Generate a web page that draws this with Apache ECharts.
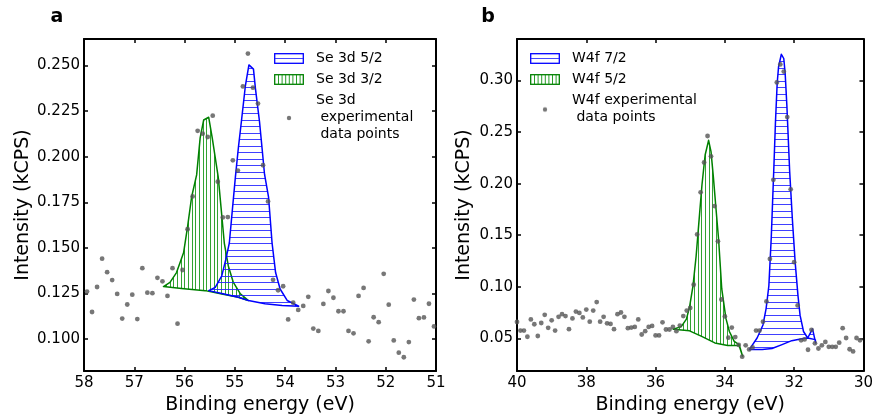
<!DOCTYPE html>
<html><head><meta charset="utf-8">
<script src="https://cdn.jsdelivr.net/npm/echarts@6/dist/echarts.min.js"></script>
<style>html,body{margin:0;padding:0;background:#fff}#c{width:876px;height:420px}</style>
</head><body><div id="c"></div>
<script>
// ---------- Panel a : Se 3d ----------
const seExpX = [57.94,57.84,57.74,57.64,57.54,57.44,57.34,57.24,57.14,57.04,
  56.94,56.84,56.74,56.64,56.54,56.44,56.34,56.24,56.14,56.04,
  55.94,55.84,55.74,55.64,55.54,55.44,55.34,55.24,55.14,55.04,
  54.94,54.84,54.74,54.64,54.54,54.44,54.34,54.24,54.14,54.04,
  53.94,53.84,53.74,53.64,53.54,53.44,53.34,53.24,53.14,53.04,
  52.94,52.84,52.74,52.64,52.54,52.44,52.34,52.24,52.14,52.04,
  51.94,51.84,51.74,51.64,51.54,51.44,51.34,51.24,51.14,51.04];
const seExpY = [0.1261,0.1149,0.1286,0.1441,0.1367,0.1324,0.1248,0.1113,0.1190,0.1244,
  0.1110,0.1389,0.1255,0.1252,0.1336,0.1317,0.1237,0.1389,0.1085,0.1379,
  0.1603,0.1782,0.2142,0.2126,0.2108,0.2225,0.1863,0.1667,0.1669,0.1980,
  0.1924,0.2385,0.2565,0.2378,0.2291,0.1953,0.1755,0.1325,0.1268,0.1290,
  0.1108,0.1200,0.1160,0.1182,0.1232,0.1058,0.1045,0.1193,0.1264,0.1227,
  0.1153,0.1153,0.1045,0.1032,0.1237,0.1281,0.0988,0.1120,0.1093,0.1358,
  0.1189,0.0993,0.0926,0.0901,0.0984,0.1217,0.1115,0.1119,0.1194,0.1070];
// Se 3d 3/2 (green) fit and background
const se32FitX = [56.42,56.29,56.16,56.02,55.94,55.86,55.76,55.69,55.62,55.52,55.45,55.39,55.33,55.27,55.21,55.13,55.03,54.89,54.73];
const se32FitY = [0.1288,0.1311,0.1365,0.1473,0.1617,0.1779,0.1900,0.2103,0.2201,0.2216,0.2103,0.1995,0.1887,0.1707,0.1527,0.1401,0.1311,0.1248,0.1212];
const se32BgX = [56.42,56.06,55.59,55.26,54.93,54.73];
const se32BgY = [0.1288,0.1278,0.1266,0.1248,0.1230,0.1212];
// Se 3d 5/2 (blue) fit and background
const se52FitX = [55.52,55.39,55.26,55.18,55.11,55.05,54.99,54.93,54.87,54.79,54.72,54.63,54.59,54.51,54.46,54.41,54.33,54.26,54.19,54.10,53.96,53.73];
const se52FitY = [0.1266,0.1284,0.1347,0.1437,0.1527,0.1707,0.1887,0.2049,0.2193,0.2390,0.2503,0.2480,0.2372,0.2193,0.2049,0.1904,0.1779,0.1527,0.1365,0.1275,0.1212,0.1181];
const se52BgX = [55.52,55.26,54.93,54.73,54.40,54.06,53.73];
const se52BgY = [0.1266,0.1250,0.1230,0.1212,0.1194,0.1185,0.1181];

// ---------- Panel b : W4f ----------
const wExpX = [40.0,39.9,39.8,39.7,39.6,39.5,39.4,39.3,39.2,39.1,
  39.0,38.9,38.8,38.7,38.6,38.5,38.4,38.3,38.2,38.1,
  38.0,37.9,37.8,37.7,37.6,37.5,37.4,37.3,37.2,37.1,
  37.0,36.9,36.8,36.7,36.6,36.5,36.4,36.3,36.2,36.1,
  36.0,35.9,35.8,35.7,35.6,35.5,35.4,35.3,35.2,35.1,
  35.0,34.9,34.8,34.7,34.6,34.5,34.4,34.3,34.2,34.1,
  34.0,33.9,33.8,33.7,33.6,33.5,33.4,33.3,33.2,33.1,
  33.0,32.9,32.8,32.7,32.6,32.5,32.4,32.3,32.2,32.1,
  32.0,31.9,31.8,31.7,31.6,31.5,31.4,31.3,31.2,31.1,
  31.0,30.9,30.8,30.7,30.6,30.5,30.4,30.3,30.2,30.1];
const wExpY = [0.0659,0.0576,0.0576,0.0516,0.0684,0.0637,0.0523,0.0649,0.0728,0.0602,
  0.0675,0.0576,0.0709,0.0735,0.0716,0.0589,0.0694,0.0760,0.0747,0.0703,
  0.0779,0.0662,0.0770,0.0852,0.0662,0.0709,0.0646,0.0640,0.0589,0.0735,
  0.0751,0.0709,0.0599,0.0605,0.0611,0.0684,0.0538,0.0570,0.0611,0.0621,
  0.0529,0.0529,0.0656,0.0586,0.0586,0.0611,0.0570,0.0624,0.0716,0.0770,
  0.0795,0.1020,0.1508,0.1916,0.2205,0.2462,0.2265,0.1783,0.1441,0.0877,
  0.0713,0.0507,0.0605,0.0513,0.0437,0.0323,0.0433,0.0393,0.0412,0.0576,
  0.0576,0.0662,0.0858,0.1270,0.2037,0.2981,0.3156,0.3086,0.2645,0.1945,
  0.1239,0.0820,0.0481,0.0490,0.0390,0.0583,0.0452,0.0402,0.0433,0.0466,
  0.0418,0.0418,0.0418,0.0459,0.0599,0.0504,0.0395,0.0374,0.0504,0.0481];
// W4f 5/2 (green)
const w52FitX = [35.49,35.26,35.11,35.02,34.92,34.83,34.73,34.66,34.57,34.47,34.40,34.33,34.26,34.18,34.09,33.97,33.87,33.73,33.59,33.49];
const w52FitY = [0.0589,0.0614,0.0687,0.0804,0.1010,0.1296,0.1707,0.1992,0.2278,0.2420,0.2310,0.2056,0.1771,0.1454,0.0979,0.0694,0.0567,0.0471,0.0440,0.0329];
const w52BgX = [35.49,35.02,34.67,34.29,33.92,33.59];
const w52BgY = [0.0589,0.0573,0.0519,0.0456,0.0431,0.0431];
// W4f 7/2 (blue)
const w72FitX = [33.29,33.07,32.90,32.81,32.73,32.66,32.59,32.54,32.49,32.45,32.37,32.30,32.26,32.21,32.13,32.05,31.97,31.89,31.83,31.73,31.61,31.47,31.38];
const w72FitY = [0.0393,0.0504,0.0630,0.0789,0.1010,0.1486,0.2120,0.2595,0.2975,0.3133,0.3254,0.3213,0.3070,0.2753,0.2120,0.1645,0.1232,0.0915,0.0725,0.0567,0.0504,0.0592,0.0456];
const w72BgX = [33.29,32.92,32.64,32.35,32.07,31.78,31.61,31.39];
const w72BgY = [0.0393,0.0393,0.0402,0.0440,0.0478,0.0497,0.0504,0.0488];

// tick labels
const seXTicks = [51,52,53,54,55,56,57,58];
const seYTicks = [0.100,0.125,0.150,0.175,0.200,0.225,0.250];
const wXTicks = [30,32,34,36,38,40];
const wYTicks = [0.05,0.10,0.15,0.20,0.25,0.30];

const BLUE = '#0000ff', GREEN = '#008000', DOT = '#555555';
const FONT = 'DejaVu Sans';

function hatchH(color) {
  const c = document.createElement('canvas'); c.width = 8; c.height = 13;
  const g = c.getContext('2d'); g.fillStyle = color;
  g.fillRect(0, 3, 8, 1); g.fillRect(0, 9, 8, 1);
  return {image: c, repeat: 'repeat'};
}
function hatchV(color) {
  const c = document.createElement('canvas'); c.width = 11; c.height = 8;
  const g = c.getContext('2d'); g.fillStyle = color;
  g.fillRect(1, 0, 1, 8); g.fillRect(5, 0, 1, 8); g.fillRect(8, 0, 1, 8);
  return {image: c, repeat: 'repeat'};
}
function iconCanvas(kind) {
  const c = document.createElement('canvas'); c.width = 37; c.height = 11;
  const g = c.getContext('2d');
  if (kind === 'blue') {
    g.strokeStyle = BLUE; g.lineWidth = 1.3;
    g.strokeRect(0.7, 0.7, 28.6, 9.6);
    g.strokeStyle = 'rgba(40,40,255,0.85)';
    g.lineWidth = 1; g.beginPath(); g.moveTo(1, 5.5); g.lineTo(29, 5.5); g.stroke();
  } else if (kind === 'green') {
    g.strokeStyle = GREEN; g.lineWidth = 1.3;
    g.strokeRect(0.7, 0.7, 28.6, 9.6);
    g.strokeStyle = 'rgba(0,140,0,0.85)';
    g.lineWidth = 1; g.beginPath();
    for (let i = 0; i < 7; i++) { const x = 4.5 + i * 3.6; g.moveTo(x, 1); g.lineTo(x, 10); }
    g.stroke();
  } else {
    g.fillStyle = DOT; g.beginPath(); g.arc(15, 6, 2.2, 0, Math.PI * 2); g.fill();
  }
  return 'image://' + c.toDataURL();
}

function polySeries(name, gi, fx, fy, bx, by, stroke, fill, z) {
  return {
    type: 'custom', name: name, xAxisIndex: gi * 2, yAxisIndex: gi * 2, z: z, silent: true,
    data: fx.map((x, i) => [x, fy[i]]),
    encode: {x: 0, y: 1},
    renderItem: function (params, api) {
      if (params.dataIndex !== 0) return null;
      const pts = [];
      for (let i = 0; i < fx.length; i++) pts.push(api.coord([fx[i], fy[i]]));
      for (let i = bx.length - 1; i >= 0; i--) pts.push(api.coord([bx[i], by[i]]));
      return {type: 'polygon', shape: {points: pts},
        style: {fill: fill, stroke: stroke, lineWidth: 1.5, lineJoin: 'round'}};
    }
  };
}

function xAxes(gi, min, max, interval) {
  const common = {
    gridIndex: gi, type: 'value', min: min, max: max, interval: interval, inverse: true,
    splitLine: {show: false},
    axisLine: {show: true, onZero: false, lineStyle: {color: '#000', width: 2}},
    axisTick: {show: true, inside: true, length: 4, lineStyle: {color: '#000', width: 1.5}}
  };
  return [
    Object.assign({}, common, {position: 'bottom',
      axisLabel: {show: true, color: '#000', fontSize: 15, fontFamily: FONT, margin: 5},
      name: 'Binding energy (eV)', nameLocation: 'middle', nameGap: 23,
      nameTextStyle: {color: '#000', fontSize: 19, fontFamily: FONT}}),
    Object.assign({}, common, {position: 'top', axisLabel: {show: false}})
  ];
}
function yAxes(gi, min, max, ticks, digits, nameGap) {
  const common = {
    gridIndex: gi, type: 'value', min: min, max: max,
    splitLine: {show: false},
    axisLine: {show: true, onZero: false, lineStyle: {color: '#000', width: 2}},
    axisTick: {show: true, inside: true, length: 4, customValues: ticks, lineStyle: {color: '#000', width: 1.5}}
  };
  return [
    Object.assign({}, common, {position: 'left',
      axisLabel: {show: true, color: '#000', fontSize: 15, fontFamily: FONT, margin: 4,
        customValues: ticks, formatter: v => Number(v).toFixed(digits)},
      name: 'Intensity (kCPS)', nameLocation: 'middle', nameGap: nameGap,
      nameTextStyle: {color: '#000', fontSize: 19, fontFamily: FONT}}),
    Object.assign({}, common, {position: 'right', axisLabel: {show: false}})
  ];
}

const iconBlue = iconCanvas('blue'), iconGreen = iconCanvas('green'), iconDot = iconCanvas('dot');
const legendCommon = {
  orient: 'vertical', top: 50, itemWidth: 37, itemHeight: 11, itemGap: 4, padding: 0,
  selectedMode: false,
  textStyle: {fontFamily: FONT, fontSize: 14, lineHeight: 17, color: '#000'}
};

const seExpName = 'Se 3d\n experimental\n data points';
const wExpName = 'W4f experimental\n data points';

const option = {
  animation: false,
  backgroundColor: '#fff',
  grid: [
    {left: 84, top: 39, width: 352, height: 338},
    {left: 517, top: 39, width: 351, height: 338}
  ],
  xAxis: [].concat(xAxes(0, 51, 58, 1), xAxes(1, 30, 40, 2)),
  yAxis: [].concat(yAxes(0, 0.0825, 0.2645, seYTicks, 3, 51), yAxes(1, 0.0183, 0.3402, wYTicks, 2, 43)),
  legend: [
    Object.assign({}, legendCommon, {left: 274, data: [
      {name: 'Se 3d 5/2', icon: iconBlue}, {name: 'Se 3d 3/2', icon: iconGreen}, {name: seExpName, icon: iconDot}]}),
    Object.assign({}, legendCommon, {left: 530, data: [
      {name: 'W4f 7/2', icon: iconBlue}, {name: 'W4f 5/2', icon: iconGreen}, {name: wExpName, icon: iconDot}]})
  ],
  graphic: [
    {type: 'text', x: 57, y: 17, style: {text: 'a', font: 'bold 19px "DejaVu Sans"', fill: '#000', align: 'center', verticalAlign: 'middle'}},
    {type: 'text', x: 488, y: 17, style: {text: 'b', font: 'bold 19px "DejaVu Sans"', fill: '#000', align: 'center', verticalAlign: 'middle'}}
  ],
  series: [
    polySeries('Se 3d 3/2', 0, se32FitX, se32FitY, se32BgX, se32BgY, GREEN, hatchV('rgba(0,140,0,0.8)'), 2),
    polySeries('Se 3d 5/2', 0, se52FitX, se52FitY, se52BgX, se52BgY, BLUE, hatchH('rgba(30,30,255,0.85)'), 3),
    {type: 'scatter', name: seExpName, xAxisIndex: 0, yAxisIndex: 0, z: 5, silent: true,
      symbolSize: 4.8, itemStyle: {color: DOT}, data: seExpX.map((x, i) => [x, seExpY[i]])},
    polySeries('W4f 5/2', 1, w52FitX, w52FitY, w52BgX, w52BgY, GREEN, hatchV('rgba(0,140,0,0.8)'), 2),
    polySeries('W4f 7/2', 1, w72FitX, w72FitY, w72BgX, w72BgY, BLUE, hatchH('rgba(30,30,255,0.85)'), 3),
    {type: 'scatter', name: wExpName, xAxisIndex: 2, yAxisIndex: 2, z: 5, silent: true,
      symbolSize: 4.8, itemStyle: {color: DOT}, data: wExpX.map((x, i) => [x, wExpY[i]])}
  ]
};
const chart = echarts.init(document.getElementById('c'), null, {renderer: 'canvas'});
chart.setOption(option);
</script>
</body></html>
